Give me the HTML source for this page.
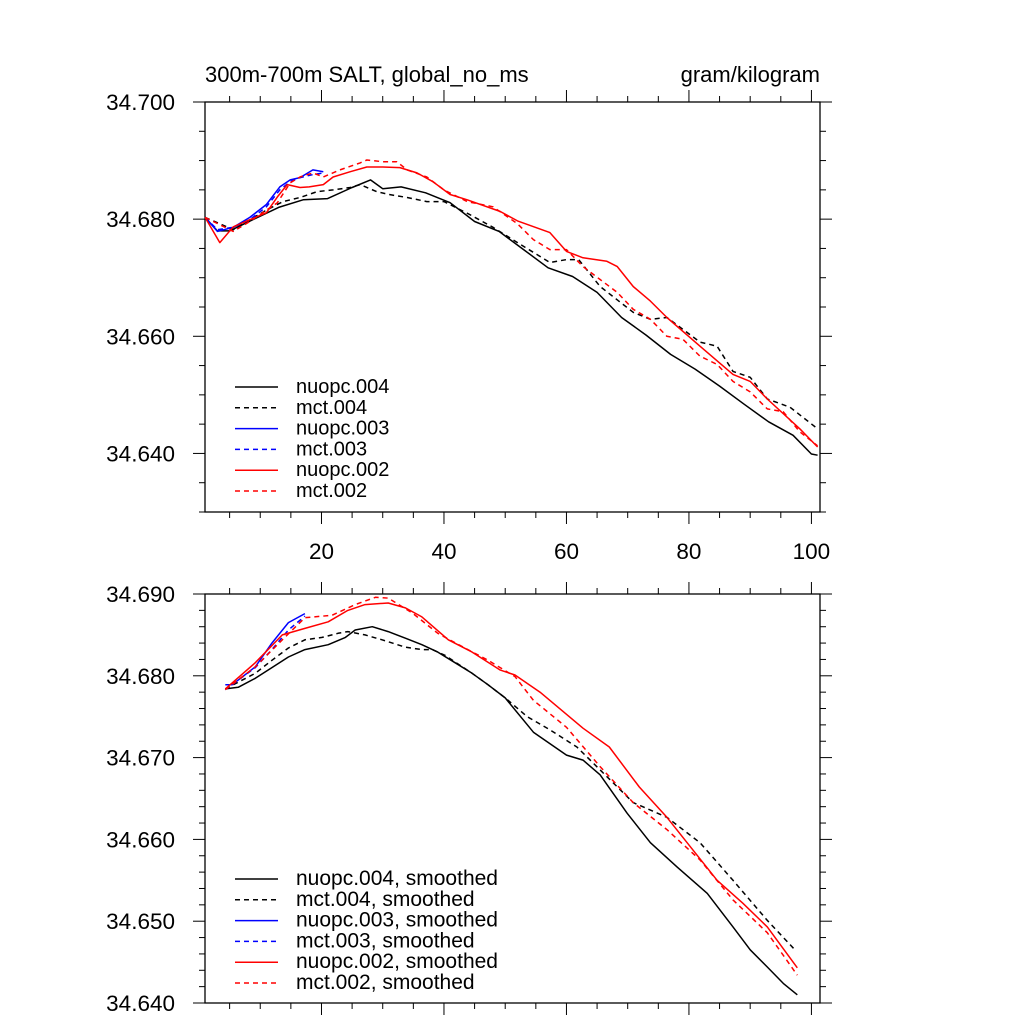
<!DOCTYPE html>
<html><head><meta charset="utf-8"><style>
html,body{margin:0;padding:0;background:#fff;}
svg{display:block;font-family:"Liberation Sans",sans-serif;}
</style></head><body>
<svg id="chart" width="1024" height="1024" xmlns="http://www.w3.org/2000/svg"></svg>
<script>
// ---- Top panel data (raw) ----
const topNuopc004X=[1,3,5,9,13,17,21,25,28,30,33,37,41,45,49,53,57,61,65,69,73,77,81,85,89,93,97,100,101];
const topNuopc004Y=[34.6803,34.6780,34.6780,34.6800,34.6820,34.6833,34.6835,34.6854,34.6867,34.6852,34.6855,34.6845,34.6828,34.6796,34.6779,34.6748,34.6717,34.6702,34.6675,34.6632,34.6602,34.6569,34.6544,34.6515,34.6484,34.6454,34.6431,34.6399,34.6397];
const topMct004X=[1,5.6,8.3,11.1,13.7,16.5,19.3,21.9,24.7,26.3,29,31,34,37.2,40,44,48,52,57.3,60,62,65.5,70.9,73.7,76.4,81.8,84.6,87.2,90,92.8,96.5,101];
const topMct004Y=[34.6803,34.6782,34.6799,34.6816,34.6830,34.6837,34.6847,34.6850,34.6854,34.6859,34.6847,34.6842,34.6837,34.6830,34.6830,34.6809,34.6786,34.6760,34.6726,34.6731,34.6731,34.6685,34.6641,34.6629,34.6632,34.6590,34.6583,34.6540,34.6530,34.6493,34.6479,34.6442];
const topNuopc003X=[1,3,5.6,8.3,11,13.2,14.9,16.5,18.6,20.3];
const topNuopc003Y=[34.6803,34.6779,34.6786,34.6803,34.6825,34.6855,34.6867,34.6871,34.6884,34.6881];
const topMct003X=[1,3,5.6,8.3,11,13.2,14.9,16.5,18.6,20.3];
const topMct003Y=[34.6803,34.6782,34.6786,34.6799,34.6821,34.6850,34.6864,34.6871,34.6876,34.6879];
const topNuopc002X=[1,3.4,5.6,8.3,11,12.8,14.4,16.5,18,20.3,21.9,24.7,27.4,30,32.8,35.6,38.2,41,43.8,49.2,52,57.3,60,62.7,66.6,68.3,70.9,73.7,76.4,81.8,87.2,90,92.8,98.1,101];
const topNuopc002Y=[34.6803,34.6760,34.6787,34.6799,34.6811,34.6838,34.6859,34.6854,34.6855,34.6859,34.6872,34.6881,34.6889,34.6889,34.6888,34.6879,34.6864,34.6842,34.6833,34.6813,34.6797,34.6777,34.6745,34.6734,34.6728,34.6719,34.6685,34.6660,34.6632,34.6583,34.6535,34.6523,34.6493,34.6442,34.6411];
const topMct002X=[1,5.6,8.3,12.8,14.9,16.5,18.6,20.3,23,26.3,27.4,30,32.3,34,37.2,40,43.8,48,52,54.6,57.3,60,62.7,65.5,68.3,70.9,73.7,76.4,79,81.8,84.6,87.2,90,92.8,95.4,98.1,101];
const topMct002Y=[34.6803,34.6779,34.6796,34.6828,34.6862,34.6872,34.6879,34.6872,34.6884,34.6896,34.6901,34.6898,34.6898,34.6884,34.6872,34.6850,34.6830,34.6821,34.6792,34.6765,34.6748,34.6748,34.6719,34.6697,34.6675,34.6646,34.6629,34.6600,34.6595,34.6566,34.6552,34.6523,34.6505,34.6476,34.6471,34.6437,34.6413];
// ---- Bottom panel data (smoothed) ----
const botNuopc004X=[4.3,6.4,9.2,11.9,14.6,17.3,21.1,23.9,25.5,28.3,30.9,33.7,36.4,39,41.8,44.6,47.2,50,54.6,60,62.7,65.5,69.9,73.7,78.1,83,87.2,90,92.8,95.4,97.7];
const botNuopc004Y=[34.6784,34.6786,34.6797,34.6810,34.6823,34.6832,34.6838,34.6847,34.6856,34.6860,34.6854,34.6846,34.6838,34.6829,34.6816,34.6803,34.6789,34.6773,34.6731,34.6703,34.6697,34.6679,34.6632,34.6596,34.6566,34.6534,34.6493,34.6465,34.6444,34.6424,34.6410];
const botMct004X=[4.3,9.2,11.9,14.6,17.3,20.1,22.7,24.3,27.1,29.9,33.7,36.4,38.1,40.2,44.6,47.2,50,53.6,57.3,61.7,65.5,70.9,76.4,81.8,87.2,92.8,97.3];
const botMct004Y=[34.6784,34.6803,34.6819,34.6834,34.6844,34.6847,34.6852,34.6854,34.6850,34.6844,34.6835,34.6832,34.6832,34.6825,34.6803,34.6789,34.6773,34.6750,34.6734,34.6713,34.6685,34.6645,34.6627,34.6596,34.6550,34.6501,34.6465];
const botNuopc003X=[4.3,5.4,9.2,11.9,14.6,17.3];
const botNuopc003Y=[34.6789,34.6789,34.6811,34.6840,34.6865,34.6876];
const botMct003X=[4.3,9.2,11.9,14.6,17.3];
const botMct003Y=[34.6783,34.6810,34.6832,34.6856,34.6873];
const botNuopc002X=[4.3,9.2,13.6,17.3,21.1,24.3,27.1,30.9,33.7,36.4,40.7,44.6,49.2,51.6,55.7,62.7,67,71.9,76.4,84.6,88.8,92.8,97.7];
const botNuopc002Y=[34.6784,34.6816,34.6850,34.6858,34.6866,34.6880,34.6887,34.6889,34.6883,34.6872,34.6844,34.6829,34.6807,34.6801,34.6780,34.6736,34.6713,34.6664,34.6627,34.6550,34.6522,34.6493,34.6443];
const botMct002X=[4.3,9.2,13.6,17.3,21.7,25.5,28.8,30.9,34.8,39,43.4,47.2,51.6,54.6,60,65.5,70.9,76.4,81.8,87.2,92.8,97.7];
const botMct002Y=[34.6783,34.6811,34.6844,34.6871,34.6874,34.6887,34.6896,34.6895,34.6877,34.6852,34.6834,34.6819,34.6799,34.6770,34.6737,34.6689,34.6645,34.6612,34.6575,34.6526,34.6486,34.6434];
// ---- Axis ticks ----
const xMajorTicks=[20,40,60,80,100];
const topYLabels=["34.640","34.660","34.680","34.700"];
const topYMajor=[34.640,34.660,34.680,34.700];
const botYLabels=["34.640","34.650","34.660","34.670","34.680","34.690"];
const botYMajor=[34.640,34.650,34.660,34.670,34.680,34.690];
const topLegend=["nuopc.004","mct.004","nuopc.003","mct.003","nuopc.002","mct.002"];
const botLegend=["nuopc.004, smoothed","mct.004, smoothed","nuopc.003, smoothed","mct.003, smoothed","nuopc.002, smoothed","mct.002, smoothed"];

const NS="http://www.w3.org/2000/svg";
const svg=document.getElementById('chart');
function mk(tag,attrs,parent){const e=document.createElementNS(NS,tag);for(const k in attrs)e.setAttribute(k,attrs[k]);(parent||svg).appendChild(e);return e;}
const X0=205,X1=820,XMIN=0.98,XMAX=101.4;
function xs(v){return X0+(v-XMIN)/(XMAX-XMIN)*(X1-X0);}
function panel(name,top,bottom,ymin,ymax,minorStep,series,legendLabels,legTop,showXLabels,ylabels,ymajor,legFont){
  const ys=v=>bottom-(v-ymin)/(ymax-ymin)*(bottom-top);
  const g=mk('g',{});
  
  
  const frame=mk('rect',{x:X0,y:top,width:X1-X0,height:bottom-top,fill:'none',stroke:'#000','stroke-width':1.3},g);
  
  
  for(let v=5;v<=XMAX;v+=5){
    const major=v%20===0, L=major?12:6, x=xs(v);
    mk('line',{x1:x,x2:x,y1:bottom,y2:bottom+L,stroke:'#000','stroke-width':1},g);
    mk('line',{x1:x,x2:x,y1:top,y2:top-L,stroke:'#000','stroke-width':1},g);
  }
  if(showXLabels){xMajorTicks.forEach(v=>{
    const t=mk('text',{x:xs(v),y:bottom+47,'text-anchor':'middle','font-size':22.5},g);t.textContent=String(v);
    
    
  });}
  const n=Math.round((ymax-ymin)/minorStep);
  for(let i=0;i<=n;i++){
    const v=ymin+i*minorStep,y=ys(v);
    const major=ymajor.some(m=>Math.abs(m-v)<1e-6),L=major?12:6;
    mk('line',{x1:X0,x2:X0-L,y1:y,y2:y,stroke:'#000','stroke-width':1},g);
    mk('line',{x1:X1,x2:X1+L,y1:y,y2:y,stroke:'#000','stroke-width':1},g);
  }
  ymajor.forEach((v,i)=>{
    const t=mk('text',{x:175,y:ys(v)+8,'text-anchor':'end','font-size':22.5},g);t.textContent=ylabels[i];
    
    
  });
  series.forEach((s,i)=>{
    const d=s.x.map((xv,j)=>(j?'L':'M')+xs(xv).toFixed(1)+' '+ys(s.y[j]).toFixed(1)).join(' ');
    const p=mk('path',{d:d,fill:'none',stroke:s.c,'stroke-width':1.5,'stroke-dasharray':s.dash?'5,4':'none','stroke-linejoin':'round'},g);
    
    
    const ly=legTop+i*20.8;
    const l=mk('line',{x1:235,x2:278,y1:ly,y2:ly,stroke:s.c,'stroke-width':1.5,'stroke-dasharray':s.dash?'5,4':'none'},g);
    
    
    const t=mk('text',{x:296,y:ly+6,'font-size':legFont},g);t.textContent=legendLabels[i];
    
    
  });
}
panel('top-panel',102,512,34.630,34.700,0.005,[
 {n:'nuopc004',x:topNuopc004X,y:topNuopc004Y,c:'#000',dash:false},
 {n:'mct004',x:topMct004X,y:topMct004Y,c:'#000',dash:true},
 {n:'nuopc003',x:topNuopc003X,y:topNuopc003Y,c:'#0000ff',dash:false},
 {n:'mct003',x:topMct003X,y:topMct003Y,c:'#0000ff',dash:true},
 {n:'nuopc002',x:topNuopc002X,y:topNuopc002Y,c:'#ff0000',dash:false},
 {n:'mct002',x:topMct002X,y:topMct002Y,c:'#ff0000',dash:true}
],topLegend,387,true,topYLabels,topYMajor,20);
panel('bottom-panel',594,1003,34.640,34.690,0.002,[
 {n:'nuopc004-smoothed',x:botNuopc004X,y:botNuopc004Y,c:'#000',dash:false},
 {n:'mct004-smoothed',x:botMct004X,y:botMct004Y,c:'#000',dash:true},
 {n:'nuopc003-smoothed',x:botNuopc003X,y:botNuopc003Y,c:'#0000ff',dash:false},
 {n:'mct003-smoothed',x:botMct003X,y:botMct003Y,c:'#0000ff',dash:true},
 {n:'nuopc002-smoothed',x:botNuopc002X,y:botNuopc002Y,c:'#ff0000',dash:false},
 {n:'mct002-smoothed',x:botMct002X,y:botMct002Y,c:'#ff0000',dash:true}
],botLegend,879,false,botYLabels,botYMajor,21);
const t1=mk('text',{x:205,y:82,'font-size':22});t1.textContent='300m-700m SALT, global_no_ms';


const t2=mk('text',{x:820,y:82,'font-size':22,'text-anchor':'end'});t2.textContent='gram/kilogram';


</script>
</body></html>
